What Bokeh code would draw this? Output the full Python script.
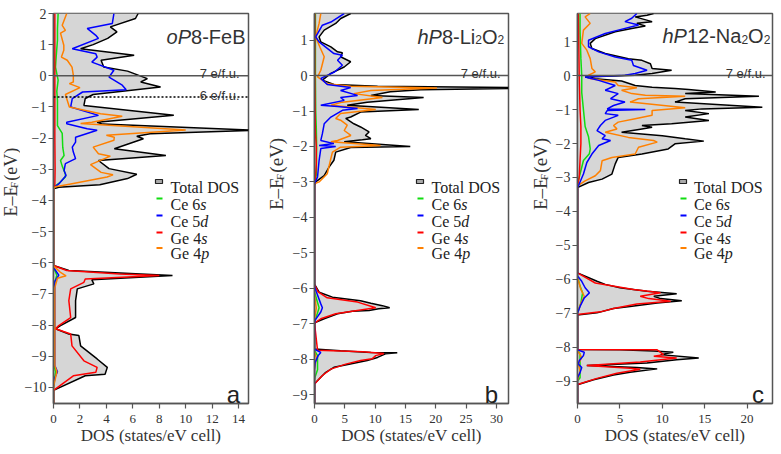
import math
from bokeh.plotting import figure
from bokeh.layouts import row
from bokeh.models import Range1d, FixedTicker, Span, Label, BoxAnnotation
from bokeh.embed import file_html
from bokeh.resources import INLINE

# ---------------- data: (energy eV, DOS states/eV cell) ----------------
# Panel a: oP8-FeB
A_TOT = [(2.0,6.4),(1.84,6.2),(1.57,4.3),(1.41,4.8),(1.20,4.1),(1.0,3.0),(0.87,2.05),(0.66,6.1),(0.50,3.6),
         (0.28,3.8),(0.15,5.6),(-0.09,7.1),(-0.20,6.6),(-0.36,8.1),(-0.60,3.0),(-0.73,2.4),(-0.95,2.3),(-1.27,9.1),
         (-1.49,3.3),(-1.55,3.7),(-1.75,15.2),(-1.86,7.3),(-1.94,6.3),(-2.02,6.8),(-2.34,4.6),(-2.56,8.5),(-2.72,3.4),
         (-2.98,4.2),(-3.16,6.3),(-3.30,5.6),(-3.50,3.5),(-3.58,0.4),(-3.63,0.0),(-6.09,0.0),(-6.25,1.16),(-6.36,6.6),
         (-6.41,9.0),(-6.55,2.9),(-6.68,3.05),(-6.84,1.8),(-7.22,1.67),(-7.76,1.67),(-8.02,0.53),(-8.12,0.15),
         (-8.29,1.16),(-8.34,1.92),(-8.67,2.05),(-9.09,3.3),(-9.36,4.07),(-9.58,3.9),(-9.63,2.4),(-10.1,0.0),(-10.52,0.0)]
A_CE6S = [(2.0,0.35),(1.5,0.3),(1.14,0.3),(0.6,0.2),(0.28,0.15),(-0.14,0.35),(-0.5,0.25),(-0.79,0.3),(-1.2,0.3),
          (-1.6,0.3),(-1.85,0.66),(-2.3,0.7),(-2.56,0.8),(-2.72,0.53),(-2.9,0.66),(-3.15,0.9),(-3.25,0.9),(-3.42,0.5),
          (-3.58,0.0),(-6.15,0.0),(-6.4,0.25),(-6.7,0.05),(-9.3,0.05),(-9.5,0.15),(-10.0,0.0),(-10.52,0.0)]
A_CE5D = [(2.0,4.57),(1.68,4.45),(1.52,2.55),(1.30,3.2),(1.20,3.4),(0.87,1.42),(0.71,3.2),(0.60,3.3),(0.44,2.9),
          (0.18,4.57),(-0.04,4.2),(-0.30,5.2),(-0.45,5.5),(-0.52,2.2),(-0.73,1.42),(-1.0,1.3),(-1.27,3.4),(-1.49,1.0),
          (-1.54,1.0),(-1.70,2.55),(-1.75,3.3),(-1.97,1.67),(-2.13,1.67),(-2.29,1.42),(-2.45,1.5),(-2.66,1.67),
          (-2.82,0.9),(-3.04,0.8),(-3.2,0.95),(-3.47,0.4),(-3.6,0.0),(-6.15,0.0),(-6.4,0.4),(-6.6,0.1),(-9.3,0.1),
          (-9.5,0.3),(-9.7,0.1),(-10.0,0.0),(-10.52,0.0)]
A_GE4S = [(2.0,0.1),(0.0,0.1),(-2.0,0.1),(-3.0,0.12),(-3.5,0.1),(-3.62,0.0),(-6.09,0.0),(-6.25,1.0),(-6.36,5.0),
          (-6.41,8.0),(-6.52,2.4),(-6.63,2.3),(-6.84,1.3),(-7.22,1.16),(-7.76,1.3),(-8.02,0.4),(-8.12,0.15),
          (-8.29,1.3),(-8.67,1.4),(-9.15,2.3),(-9.36,3.3),(-9.52,3.2),(-9.63,1.5),(-10.1,0.0),(-10.52,0.0)]
A_GE4P = [(2.0,1.0),(1.62,0.66),(1.46,0.9),(1.37,0.53),(0.98,0.78),(0.82,0.78),(0.60,0.6),(0.50,1.04),(0.28,1.4),
          (0.02,1.5),(-0.20,1.5),(-0.25,1.2),(-0.38,2.0),(-0.60,0.9),(-1.0,1.2),(-1.22,3.56),(-1.30,5.2),(-1.49,2.9),
          (-1.53,2.05),(-1.74,10.0),(-1.91,4.0),(-1.97,4.6),(-2.07,4.57),(-2.29,3.0),(-2.50,3.4),(-2.58,4.3),
          (-2.85,2.8),(-3.10,3.6),(-3.18,4.5),(-3.25,4.05),(-3.47,1.3),(-3.56,0.15),(-3.62,0.0),(-6.1,0.0),
          (-6.3,0.5),(-6.42,0.95),(-6.5,0.3),(-6.8,0.1),(-9.3,0.1),(-9.5,0.25),(-9.9,0.05),(-10.1,0.0),(-10.52,0.0)]

# Panel b: hP8-Li2O2
B_TOT = [(1.75,5.97),(1.61,4.33),(1.47,3.5),(1.28,1.6),(1.09,0.76),(0.95,1.04),(0.81,2.7),(0.67,3.8),(0.64,4.6),
         (0.53,4.3),(0.39,5.97),(0.24,4.9),(0.06,2.7),(-0.13,1.3),(-0.25,3.2),(-0.30,10.4),(-0.35,40.0),(-0.40,17.5),
         (-0.46,12.5),(-0.56,9.3),(-0.62,18.0),(-0.75,8.7),(-0.84,5.4),(-0.96,17.2),(-1.03,7.6),(-1.17,5.97),
         (-1.21,5.15),(-1.36,6.5),(-1.45,7.6),(-1.59,9.0),(-1.69,8.4),(-1.78,9.3),(-1.81,7.9),(-1.87,4.9),(-2.0,15.8),
         (-2.03,5.97),(-2.16,3.5),(-2.39,3.2),(-2.58,2.4),(-2.82,1.6),(-3.0,0.2),(-3.1,0.0),(-5.88,0.0),(-6.11,0.76),
         (-6.25,2.96),(-6.35,7.6),(-6.42,9.3),(-6.49,11.2),(-6.55,12.4),(-6.58,10.6),(-6.63,9.0),(-6.65,6.25),
         (-6.72,3.8),(-6.86,1.6),(-6.96,0.2),(-7.0,0.0),(-7.71,0.0),(-7.76,4.3),(-7.81,9.3),(-7.82,13.65),
         (-7.85,11.7),(-7.95,10.4),(-8.04,8.7),(-8.14,5.7),(-8.23,3.2),(-8.37,1.86),(-8.51,1.04),(-8.66,0.2),
         (-8.7,0.0),(-9.25,0.0)]
B_CE6S = [(1.75,0.15),(0.0,0.15),(-1.0,0.2),(-1.5,0.3),(-2.0,0.35),(-2.8,0.3),(-3.05,0.0),(-6.1,0.0),(-6.4,0.5),
          (-6.55,0.76),(-6.75,0.4),(-6.95,0.0),(-7.75,0.0),(-7.9,0.5),(-8.3,0.5),(-8.5,0.1),(-8.6,0.0),(-9.25,0.0)]
B_CE5D = [(1.75,4.9),(1.51,2.7),(1.42,1.3),(1.09,0.2),(0.95,0.76),(0.62,3.2),(0.57,4.6),(0.43,3.8),(0.29,4.6),
          (0.10,3.3),(-0.08,1.04),(-0.25,2.1),(-0.34,5.97),(-0.42,4.3),(-0.56,7.1),(-0.62,4.3),(-0.70,4.9),
          (-0.84,1.04),(-0.87,3.8),(-0.93,7.1),(-0.98,4.6),(-1.17,2.7),(-1.36,1.6),(-1.64,1.3),(-1.83,1.04),
          (-1.92,3.2),(-1.97,0.76),(-2.0,3.5),(-2.06,1.04),(-2.39,0.76),(-2.86,0.5),(-3.05,0.0),(-5.95,0.0),
          (-6.1,0.3),(-6.44,1.04),(-6.55,1.3),(-6.67,1.04),(-6.9,0.1),(-7.0,0.0),(-7.72,0.0),(-7.81,1.04),
          (-7.9,0.6),(-8.1,0.1),(-8.3,0.0),(-9.25,0.0)]
B_GE4S = [(1.75,0.05),(0.0,0.05),(-1.0,0.1),(-1.6,0.15),(-2.0,0.3),(-2.5,0.3),(-3.0,0.1),(-3.05,0.0),(-5.9,0.0),
          (-6.1,0.6),(-6.27,2.1),(-6.39,7.1),(-6.55,10.1),(-6.61,7.6),(-6.72,3.5),(-6.86,1.04),(-6.98,0.0),
          (-7.75,0.5),(-7.79,8.0),(-7.84,11.45),(-7.90,10.1),(-7.99,9.5),(-8.04,7.6),(-8.14,5.15),(-8.28,2.7),
          (-8.46,1.3),(-8.7,0.0),(-9.25,0.0)]
B_GE4P = [(1.75,1.04),(1.47,0.76),(1.09,0.2),(0.8,0.9),(0.53,1.6),(0.15,1.04),(-0.04,0.5),(-0.23,2.1),(-0.30,5.97),
          (-0.35,20.2),(-0.42,9.3),(-0.51,6.5),(-0.62,11.2),(-0.75,4.6),(-0.84,2.7),(-0.96,10.1),(-1.07,4.3),
          (-1.21,3.5),(-1.26,4.3),(-1.40,5.4),(-1.55,4.9),(-1.69,6.0),(-1.83,3.8),(-1.87,2.7),(-1.97,10.9),
          (-2.02,4.3),(-2.16,2.96),(-2.34,2.7),(-2.77,2.1),(-3.0,0.76),(-3.05,0.0),(-6.2,0.0),(-6.55,0.3),(-6.9,0.0),
          (-7.8,0.0),(-7.95,0.3),(-8.3,0.0),(-9.25,0.0)]

# Panel c: hP12-Na2O2
C_TOT = [(1.83,8.97),(1.78,8.2),(1.73,6.8),(1.59,8.8),(1.54,7.0),(1.46,8.0),(1.39,6.4),(1.29,4.45),(1.09,2.1),
         (0.95,1.5),(0.80,1.7),(0.65,3.27),(0.50,6.0),(0.45,7.6),(0.35,8.6),(0.21,8.8),(0.16,11.1),(0.06,8.8),
         (0.01,6.8),(-0.04,0.9),(-0.09,2.1),(-0.16,5.2),(-0.29,6.8),(-0.34,8.8),(-0.38,11.5),(-0.41,13.1),
         (-0.48,16.3),(-0.53,12.7),(-0.61,21.4),(-0.68,12.7),(-0.78,11.5),(-0.93,21.8),(-0.98,14.7),(-1.03,12.7),
         (-1.12,15.5),(-1.22,12.7),(-1.32,15.5),(-1.42,11.1),(-1.47,7.6),(-1.52,8.8),(-1.57,7.6),(-1.67,5.2),
         (-1.77,10.0),(-1.86,12.7),(-1.93,14.9),(-2.01,11.5),(-2.16,10.7),(-2.31,7.6),(-2.41,4.8),(-2.60,4.45),
         (-2.90,4.06),(-3.05,2.9),(-3.15,1.3),(-3.30,0.0),(-5.81,0.0),(-6.06,2.3),(-6.15,3.27),(-6.25,5.0),
         (-6.35,8.2),(-6.43,11.7),(-6.50,9.0),(-6.57,9.8),(-6.63,12.3),(-6.70,9.4),(-6.80,6.2),(-6.86,4.25),
         (-6.99,2.3),(-7.05,0.0),(-8.07,0.0),(-8.08,5.0),(-8.11,9.0),(-8.15,11.3),(-8.22,9.8),(-8.32,14.3),
         (-8.37,11.7),(-8.47,8.2),(-8.54,1.1),(-8.60,7.0),(-8.64,9.4),(-8.74,6.2),(-8.82,4.25),(-8.96,1.9),
         (-9.11,0.0),(-9.66,0.0)]
C_CE6S = [(1.83,0.3),(1.3,0.3),(0.5,0.4),(0.0,0.5),(-0.5,0.5),(-1.0,0.7),(-1.5,0.9),(-1.8,1.3),(-2.16,1.5),
          (-2.3,1.4),(-2.5,0.7),(-2.9,0.3),(-3.2,0.0),(-5.9,0.0),(-6.2,0.3),(-6.4,0.6),(-6.7,0.4),(-7.0,0.0),
          (-8.08,0.0),(-8.2,0.3),(-8.9,0.3),(-9.0,0.0),(-9.66,0.0)]
C_CE5D = [(1.83,7.0),(1.69,6.4),(1.59,5.6),(1.49,7.2),(1.34,4.8),(1.24,3.27),(1.04,1.3),(0.85,1.3),(0.70,2.5),
          (0.55,4.45),(0.45,6.4),(0.30,6.6),(0.16,8.2),(0.06,6.8),(0.01,5.6),(-0.04,0.9),(-0.14,2.5),(-0.29,4.45),
          (-0.43,3.27),(-0.53,4.8),(-0.68,3.9),(-0.78,5.6),(-0.88,4.25),(-0.98,3.5),(-1.0,8.0),(-1.03,3.5),
          (-1.12,3.27),(-1.17,4.8),(-1.32,3.27),(-1.47,2.7),(-1.62,2.3),(-1.77,3.27),(-1.86,2.9),(-1.91,3.9),
          (-2.06,2.5),(-2.31,1.7),(-2.56,1.1),(-2.90,0.7),(-3.25,0.1),(-3.3,0.0),(-5.9,0.0),(-6.06,0.5),
          (-6.25,0.9),(-6.40,1.4),(-6.55,0.8),(-6.80,0.3),(-7.0,0.0),(-8.08,0.0),(-8.15,0.8),(-8.25,0.7),
          (-8.4,0.2),(-8.5,0.1),(-8.6,0.5),(-8.75,0.3),(-8.9,0.0),(-9.66,0.0)]
C_GE4S = [(1.83,0.1),(0.0,0.2),(-1.0,0.3),(-1.5,0.4),(-2.0,0.4),(-2.5,0.3),(-3.0,0.2),(-3.25,0.0),(-5.81,0.0),
          (-6.11,2.1),(-6.30,6.6),(-6.40,9.8),(-6.50,7.4),(-6.57,8.4),(-6.65,11.0),(-6.73,7.0),(-6.86,4.25),
          (-6.96,2.7),(-7.04,0.0),(-8.07,0.0),(-8.08,9.4),(-8.22,10.15),(-8.27,9.0),(-8.32,11.7),(-8.44,7.4),
          (-8.54,1.1),(-8.62,6.2),(-8.65,7.4),(-8.77,4.65),(-8.92,2.3),(-9.1,0.0),(-9.66,0.0)]
C_GE4P = [(1.83,1.5),(1.73,0.9),(1.54,1.5),(1.34,0.7),(0.95,0.5),(0.75,1.1),(0.50,1.5),(0.21,1.7),(0.11,2.1),
          (0.01,1.3),(-0.09,1.5),(-0.19,4.45),(-0.29,4.8),(-0.36,7.0),(-0.43,5.2),(-0.53,6.4),(-0.58,8.0),
          (-0.61,12.7),(-0.68,7.2),(-0.78,6.2),(-0.95,12.7),(-1.03,8.8),(-1.17,8.8),(-1.27,6.8),(-1.37,4.8),
          (-1.47,4.25),(-1.57,4.65),(-1.67,3.27),(-1.82,6.0),(-1.91,8.97),(-1.96,9.4),(-2.11,7.2),(-2.31,6.8),
          (-2.41,4.06),(-2.51,2.9),(-2.80,2.7),(-2.95,2.1),(-3.10,0.9),(-3.25,0.0),(-5.95,0.0),(-6.3,0.4),
          (-6.5,0.8),(-6.7,0.4),(-7.0,0.0),(-8.1,0.0),(-8.3,0.5),(-8.5,0.1),(-8.7,0.3),(-9.0,0.0),(-9.66,0.0)]

SERIES_NAMES = ["Total DOS", "Ce 6s", "Ce 5d", "Ge 4s", "Ge 4p"]
X_TICKS_A = [0, 2, 4, 6, 8, 10, 12, 14]
X_TICKS_B = [0, 5, 10, 15, 20, 25, 30]
X_TICKS_C = [0, 5, 10, 15, 20]
Y_TICKS_A = list(range(-10, 3))
Y_TICKS_BC = list(range(-9, 2))
FERMI_7 = 0.0
LEVEL_6 = -0.68

# ---------------- style ----------------
FILL = "#d6d6d6"
COL = {"tot": "#000000", "s": "#11dd11", "d": "#0000ff", "gs": "#ff0000", "gp": "#ff8000"}
FRAME = "#555555"
TXT = "#333333"
SERIF = "Liberation Serif"
SANS = "Liberation Sans"
W_SANS = {'h':556,'P':667,'o':556,'8':556,'-':333,'F':611,'e':556,'B':667,'L':556,'i':222,'2':556,'O':778,
          '1':556,'N':722,'a':556}
W_SERIF = {'E':611,'\u2013':500,'F':556,' ':250,'(':333,'e':444,'V':722,')':333,'C':667,'6':500,'5':500,
           'G':722,'4':500,'s':389,'d':500,'p':500}

FRAME_TOP, FRAME_H, FIG_H = 13, 390, 446


def tw(text, font, size):
    tab = W_SANS if font == SANS else W_SERIF
    return sum(tab.get(c, 500) for c in text) * size / 1000.0


class Panel:
    def __init__(self, xr, yr, L, W, bl, br):
        self.xr, self.yr, self.L, self.W, self.bl, self.br = xr, yr, L, W, bl, br

    def dx(self, px):
        return self.xr[0] + (px - self.L) / self.W * (self.xr[1] - self.xr[0])

    def dy(self, py):
        return self.yr[1] - (py - FRAME_TOP) / FRAME_H * (self.yr[1] - self.yr[0])


def make_fig(P, xticks, yticks):
    p = figure(frame_width=P.W, frame_height=FRAME_H, min_border_left=P.bl, min_border_right=P.br,
               min_border_top=FRAME_TOP, min_border_bottom=FIG_H - FRAME_TOP - FRAME_H,
               x_range=Range1d(*P.xr), y_range=Range1d(*P.yr),
               output_backend="svg", toolbar_location=None)
    p.grid.visible = False
    p.outline_line_color = FRAME
    p.outline_line_width = 1.5
    p.background_fill_color = "white"
    p.border_fill_color = "white"
    for ax in (p.xaxis[0], p.yaxis[0]):
        ax.axis_line_color = FRAME
        ax.axis_line_width = 1.5
        ax.major_tick_line_color = FRAME
        ax.major_tick_line_width = 1.2
        ax.major_tick_out = 5
        ax.major_tick_in = 0
        ax.minor_tick_line_color = None
        ax.major_label_text_font = SERIF
        ax.major_label_text_color = TXT
    p.xaxis.ticker = FixedTicker(ticks=xticks)
    p.yaxis.ticker = FixedTicker(ticks=yticks)
    p.xaxis.major_label_text_font_size = "13px"
    p.yaxis.major_label_text_font_size = "14px"
    p.xaxis.major_label_standoff = 6
    p.yaxis.major_label_standoff = 2
    p.xaxis.axis_label = "DOS (states/eV cell)"
    p.xaxis.axis_label_text_font = SERIF
    p.xaxis.axis_label_text_font_size = "17px"
    p.xaxis.axis_label_text_font_style = "normal"
    p.xaxis.axis_label_text_color = TXT
    p.xaxis.axis_label_standoff = 0
    return p


def label_fig(width, mid_px, start_py, size=19):
    """Narrow figure holding the rotated y-axis title (pixel coordinates).
    Each piece is centred on its own spot so that nothing pokes out of the narrow canvas."""
    f = figure(width=width, height=FIG_H, x_range=Range1d(0, width), y_range=Range1d(0, FIG_H),
               min_border=0, x_axis_location=None, y_axis_location=None,
               output_backend="svg", toolbar_location=None)
    f.grid.visible = False
    f.outline_line_color = None
    f.background_fill_color = "white"
    f.border_fill_color = "white"
    y = start_py
    sub = round(size * 0.55)
    for text, sz, shift in [("E\u2013E", size, 0), ("F", sub, 3.5), ("(eV)", size, 0)]:
        w = tw(text, SERIF, sz)
        if text.startswith("("):
            y -= tw(" ", SERIF, sz)
        f.add_layout(Label(x=mid_px + shift, y=FIG_H - (y - w / 2), text=text, text_font=SERIF,
                           text_font_size=f"{sz}px", text_color=TXT, angle=math.pi / 2,
                           text_align="center", text_baseline="middle"))
        y -= w
    return f


def draw_curves(p, tot, curves):
    e = [a for a, b in tot]
    v = [b for a, b in tot]
    p.harea(y=e, x1=0, x2=v, fill_color=FILL, fill_alpha=1.0)
    p.line(x=v, y=e, line_color=COL["tot"], line_width=1.5)
    for data, key in curves:
        p.line(x=[b for a, b in data], y=[a for a, b in data], line_color=COL[key], line_width=1.5)


def hpieces(p, P, pieces, start_px, base_py, color=TXT):
    x = start_px
    for text, font, size, style, shift in pieces:
        p.add_layout(Label(x=P.dx(x), y=P.dy(base_py + shift), text=text, text_font=font,
                           text_font_size=f"{size}px", text_font_style=style, text_color=color,
                           text_align="left", text_baseline="alphabetic"))
        x += tw(text, font, size)


def right_text(p, P, text, font, size, right_px, base_py, color=TXT):
    p.add_layout(Label(x=P.dx(right_px), y=P.dy(base_py), text=text, text_font=font,
                       text_font_size=f"{size}px", text_color=color, text_align="right",
                       text_baseline="alphabetic"))


def legend(p, P, box_l, text_l):
    centers = [181, 198, 215, 232, 247.5]
    p.add_layout(BoxAnnotation(left=P.dx(box_l), right=P.dx(box_l + 7), top=P.dy(centers[0] - 2),
                               bottom=P.dy(centers[0] + 2), fill_color="#aaaaaa", fill_alpha=1.0,
                               line_color="#222222", line_width=1.2, line_alpha=1.0))
    for c, key in zip(centers[1:], ["s", "d", "gs", "gp"]):
        p.add_layout(BoxAnnotation(left=P.dx(box_l + 1), right=P.dx(box_l + 7), top=P.dy(c - 1),
                                   bottom=P.dy(c + 1), fill_color=COL[key], fill_alpha=1.0,
                                   line_color=None))
    parts = [[(SERIES_NAMES[0], "normal")]] + [
        [(n[:-1], "normal"), (n[-1], "italic")] for n in SERIES_NAMES[1:]]
    for c, pr in zip(centers, parts):
        hpieces(p, P, [(t, SERIF, 16, st, 0) for t, st in pr], text_l, c + 5.5, color="#222222")


def spans(p, dotted=False):
    p.add_layout(Span(location=FERMI_7, dimension="width", line_color=FRAME, line_width=1.5))
    if dotted:
        p.add_layout(Span(location=LEVEL_6, dimension="width", line_color="black", line_width=1.5,
                          line_dash="2 2"))


# ---------------- panel a ----------------
la = label_fig(20, 10, 230.5, size=18)
PA = Panel((0, 14.75), (-10.52, 2.0), 53, 195, 33, 10)
pa = make_fig(PA, X_TICKS_A, Y_TICKS_A)
draw_curves(pa, A_TOT, [(A_CE6S, "s"), (A_CE5D, "d"), (A_GE4S, "gs"), (A_GE4P, "gp")])
spans(pa, dotted=True)
hpieces(pa, PA, [("oP", SANS, 20, "italic", 0), ("8-FeB", SANS, 20, "normal", 0)], 245 - 78.9, 36)
right_text(pa, PA, "7 e/f.u.", SANS, 13, 239, 72.5)
right_text(pa, PA, "6 e/f.u.", SANS, 13, 239, 95)
right_text(pa, PA, "a", SANS, 24, 239.5, 393.5, color="#222222")
legend(pa, PA, 155, 170)

# ---------------- panel b ----------------
lb = label_fig(30, 276 - 258, 223)
PB = Panel((0, 32), (-9.25, 1.75), 314, 194, 26, 10)
pb = make_fig(PB, X_TICKS_B, Y_TICKS_BC)
draw_curves(pb, B_TOT, [(B_CE6S, "s"), (B_GE4P, "gp"), (B_GE4S, "gs"), (B_CE5D, "d")])
spans(pb)
hpieces(pb, PB, [("hP", SANS, 20, "italic", 0), ("8-Li", SANS, 20, "normal", 0), ("2", SANS, 12, "normal", 3),
                 ("O", SANS, 20, "normal", 0), ("2", SANS, 12, "normal", 3)], 417, 36)
right_text(pb, PB, "7 e/f.u.", SANS, 13, 500, 72.5)
right_text(pb, PB, "b", SANS, 24, 497.5, 393.5, color="#222222")
legend(pb, PB, 416, 431)

# ---------------- panel c ----------------
lc = label_fig(34, 540 - 518, 223)
PC = Panel((0, 23), (-9.66, 1.83), 577, 195, 25, 9)
pc = make_fig(PC, X_TICKS_C, Y_TICKS_BC)
draw_curves(pc, C_TOT, [(C_CE6S, "s"), (C_GE4P, "gp"), (C_GE4S, "gs"), (C_CE5D, "d")])
spans(pc)
hpieces(pc, PC, [("hP", SANS, 20, "italic", 0), ("12-Na", SANS, 20, "normal", 0), ("2", SANS, 12, "normal", 3),
                 ("O", SANS, 20, "normal", 0), ("2", SANS, 12, "normal", 3)], 662, 35.5)
right_text(pc, PC, "7 e/f.u.", SANS, 13, 765, 72.5)
right_text(pc, PC, "c", SANS, 24, 763.5, 393.5, color="#222222")
legend(pc, PC, 679, 693.5)

layout = row(la, pa, lb, pb, lc, pc, spacing=0)
open("out.html", "w").write(file_html(layout, INLINE))
